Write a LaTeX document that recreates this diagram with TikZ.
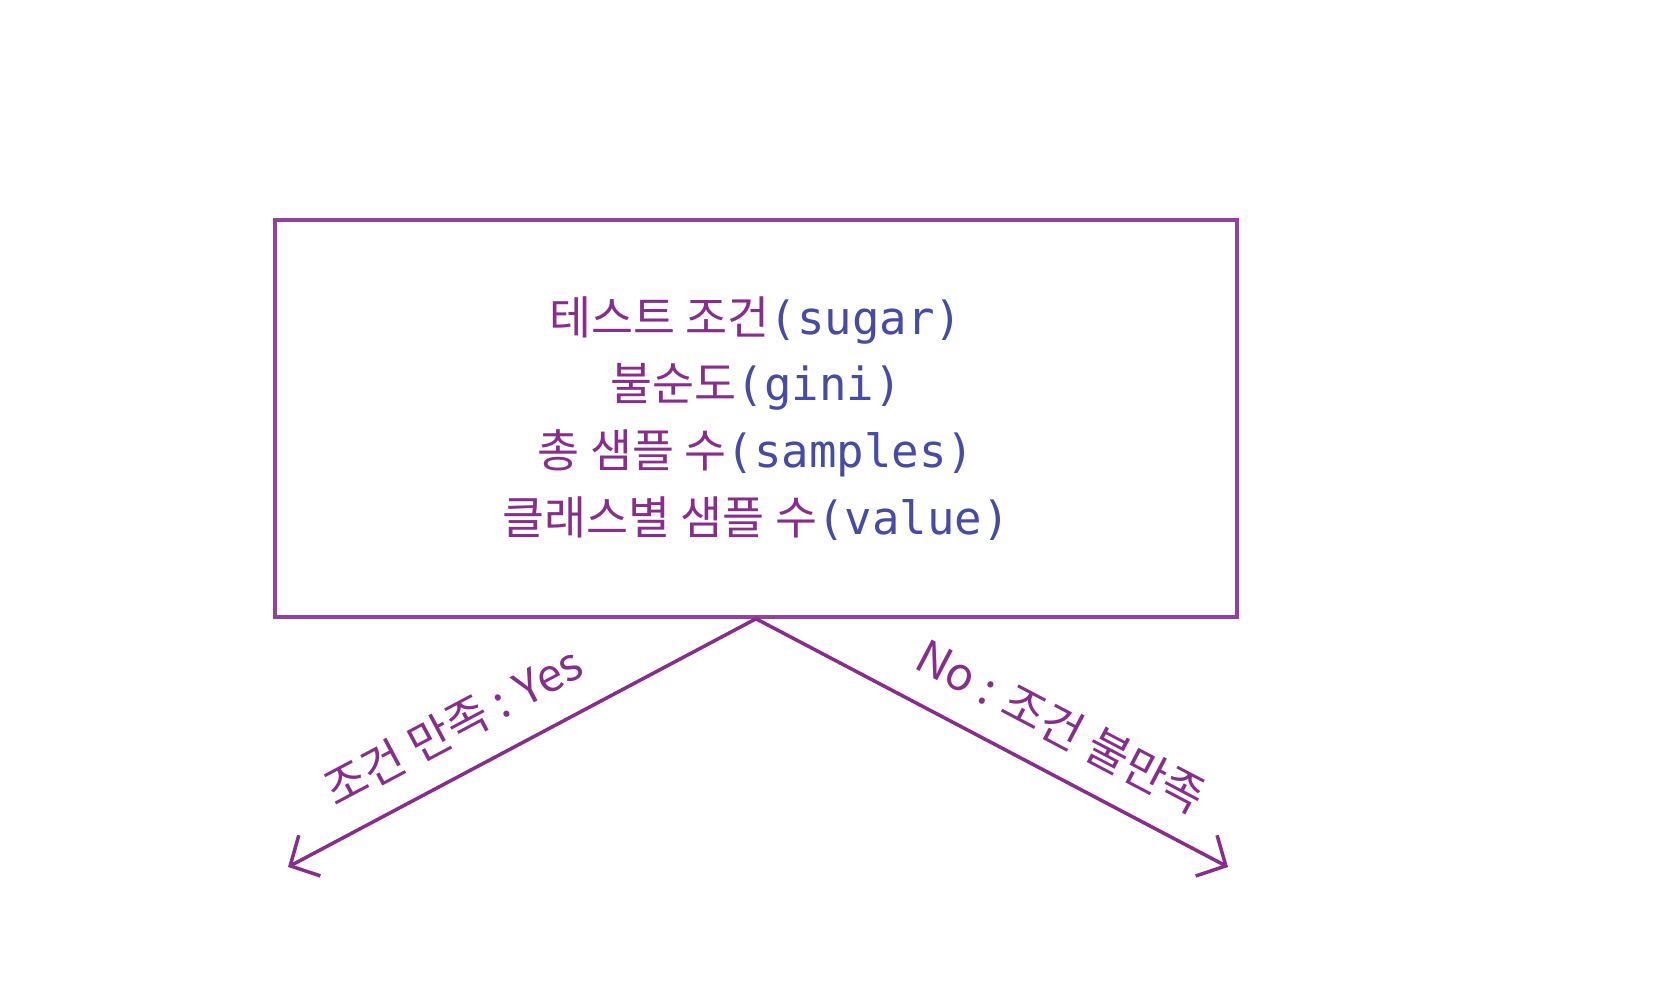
\documentclass[tikz,border=0pt]{standalone}
\usepackage{fontspec}
\setmainfont{Noto Sans CJK KR}
\setmonofont{DejaVu Sans Mono}
\usetikzlibrary{arrows.meta}

\definecolor{penpurple}{RGB}{135,45,140}
\definecolor{boxpurple}{RGB}{145,65,160}
\definecolor{penblue}{RGB}{70,75,165}
\newcommand{\en}[1]{{\ttfamily\color{penblue}#1}}

\begin{document}
\begin{tikzpicture}[
  node box/.style={draw=boxpurple,line width=1pt,minimum width=9.62cm,minimum height=3.97cm,
    align=center,text=penpurple,font=\fontsize{13}{19}\selectfont},
  branch/.style={draw=penpurple,line width=1pt,-{Straight Barb[length=2.2mm,width=4.6mm]}},
  lbl/.style={text=penpurple,font=\fontsize{13}{15}\selectfont,sloped,above,inner sep=7pt}
]
  \useasboundingbox (0,0) rectangle (16.69,9.99);

  \node[node box] (test) at (7.56,5.805) {%
    테스트 조건\en{(sugar)}\\
    불순도\en{(gini)}\\
    총 샘플 수\en{(samples)}\\
    클래스별 샘플 수\en{(value)}};

  \coordinate (yes) at (2.88,1.32);
  \coordinate (no) at (12.28,1.32);

  \draw[branch] (test.south) -- node[lbl,pos=0.6] {조건 만족 : Yes} (yes);
  \draw[branch] (test.south) -- node[lbl,pos=0.6] {No : 조건 불만족} (no);
\end{tikzpicture}
\end{document}
